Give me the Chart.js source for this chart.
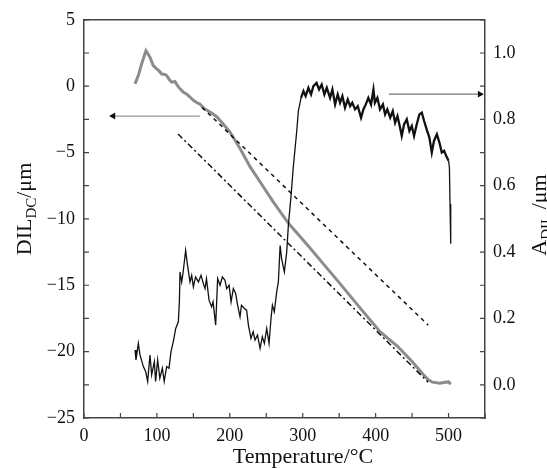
<!DOCTYPE html>
<html lang="en">
<head>
    <meta charset="UTF-8">
    <title>DIL / A_DIL vs Temperature</title>
    <style>
        body, html {
            margin: 0;
            padding: 0;
            background: #fff;
            overflow: hidden;
        }
        #wrap {
            width: 547px;
            height: 468px;
        }
    </style>
</head>
<body>
<div id="wrap">
    <canvas id="chart" width="547" height="468"></canvas>
</div>

<script src="https://cdn.jsdelivr.net/npm/chart.js"></script>
<script>
    // dilatation curve (left axis, um)
    const tempDil = [70, 74.5, 79, 85, 87, 90.5, 95, 99.7, 103, 106.6,
        110, 113.4, 117, 120.3, 124.8, 128, 131.7, 136, 140.9, 145,
        150, 155, 159, 165, 172.9, 182, 190, 200, 214, 227.7,
        245, 260, 280, 293.6, 310, 330, 350, 380, 406, 430,
        450, 465, 472, 478, 488, 495, 500, 503];
    const dilValues = [0.17, 0.8, 1.67, 2.67, 2.5, 2.17, 1.55, 1.3, 1.15, 0.92,
        0.9, 0.8, 0.5, 0.3, 0.35, 0.05, -0.2, -0.45, -0.6, -0.8,
        -1.07, -1.25, -1.35, -1.7, -1.95, -2.3, -2.8, -3.44, -4.69, -6.06,
        -7.5, -8.75, -10.3, -11.15, -12.2, -13.5, -14.8, -16.8, -18.5, -19.6,
        -20.75, -21.7, -22.1, -22.3, -22.38, -22.3, -22.28, -22.45];

    // A_DIL curve (right axis)
    const tempA = [70, 71.3, 74.5, 76.8, 81.4, 84.6, 87.3, 90.5, 92.8, 96.5,
        98.2, 101, 104, 107.5, 110, 113.4, 116.6, 119.3, 122.5, 125.8,
        129.4, 130.8, 131.7, 134, 136, 139.4, 142, 145.4, 147.7, 150,
        153, 157, 160.5, 163.7, 166, 168, 171.5, 175, 177, 180.6,
        183.3, 186.6, 189.8, 193.4, 195.7, 199, 201.7, 204.8, 208, 210.7,
        214, 216, 220, 223, 225.5, 229, 232, 234.6, 238, 241.5,
        244.6, 247.4, 250.6, 253.8, 256.5, 258.4, 261, 264.3, 266.6, 269,
        271, 274.8, 278, 280.3, 284, 287, 291.8, 294, 297.7, 301,
        304, 307.8, 311.4, 314.6, 319, 322.4, 326, 329.7, 333, 337.5,
        340.7, 344.4, 348, 351.2, 354.4, 358, 361.8, 365, 368, 371.8,
        375.5, 380, 383.2, 386.5, 390, 393.7, 397, 399, 402.4, 406,
        410, 413, 416, 420, 423.5, 426.7, 430, 433.5, 435.8, 439,
        442.7, 446.3, 449.6, 452.7, 456.4, 460, 463.3, 466.5, 470, 473.7,
        477, 480, 484, 487.5, 490.7, 494, 496.7, 500, 501.2, 502, 503];
    const aValues = [0.105, 0.075, 0.125, 0.09, 0.055, 0.04, 0.01, 0.09, 0.03, 0.07,
        0.01, 0.075, 0.02, 0.05, 0.01, 0.055, 0.05, 0.1, 0.13, 0.17,
        0.19, 0.25, 0.34, 0.31, 0.34, 0.405, 0.36, 0.31, 0.33, 0.295,
        0.325, 0.31, 0.33, 0.305, 0.29, 0.32, 0.255, 0.235, 0.25, 0.18,
        0.32, 0.3, 0.325, 0.315, 0.29, 0.3, 0.25, 0.29, 0.275, 0.24,
        0.205, 0.24, 0.23, 0.225, 0.18, 0.14, 0.16, 0.135, 0.15, 0.11,
        0.145, 0.125, 0.17, 0.125, 0.2, 0.24, 0.22, 0.28, 0.31, 0.42,
        0.38, 0.34, 0.4, 0.48, 0.57, 0.655, 0.765, 0.825, 0.865, 0.885,
        0.87, 0.895, 0.875, 0.9, 0.91, 0.89, 0.905, 0.875, 0.895, 0.865,
        0.89, 0.845, 0.875, 0.85, 0.87, 0.835, 0.86, 0.84, 0.85, 0.83,
        0.84, 0.805, 0.83, 0.845, 0.865, 0.845, 0.89, 0.85, 0.865, 0.83,
        0.845, 0.815, 0.83, 0.805, 0.825, 0.79, 0.81, 0.775, 0.75, 0.785,
        0.8, 0.765, 0.78, 0.75, 0.785, 0.815, 0.82, 0.795, 0.77, 0.745,
        0.7, 0.735, 0.755, 0.73, 0.7, 0.705, 0.69, 0.675, 0.655, 0.545, 0.425];

    // straight reference lines (left axis)
    const dashedT = [162, 472];
    const dashedDil = [-1.6, -18.0];
    const dashDotT = [129, 472];
    const dashDotDil = [-3.6, -22.3];

    // arrows pointing at the axes
    const arrowLeftT = [40, 159];
    const arrowLeftDil = [-2.25, -2.25];
    const arrowRightT = [418, 543];
    const arrowRightA = [0.876, 0.876];

    const pts = (xs, ys) => xs.map((x, i) => ({ x: x, y: ys[i] }));

    const serif = 'Liberation Serif';
    const axisColor = '#444';

    // inward tick marks, top frame line and axis titles with subscripts
    const frame = {
        id: 'frame',
        afterDatasetsDraw(chart) {
            const { ctx, chartArea: a, scales } = chart;
            ctx.save();
            ctx.strokeStyle = axisColor;
            ctx.lineWidth = 1.2;
            ctx.beginPath();
            scales.x.ticks.forEach(t => {
                const px = scales.x.getPixelForValue(t.value);
                ctx.moveTo(px, a.bottom);
                ctx.lineTo(px, a.bottom - 5);
            });
            scales.y.ticks.forEach(t => {
                const py = scales.y.getPixelForValue(t.value);
                ctx.moveTo(a.left, py);
                ctx.lineTo(a.left + 5, py);
            });
            scales.y2.ticks.forEach(t => {
                const py = scales.y2.getPixelForValue(t.value);
                ctx.moveTo(a.right, py);
                ctx.lineTo(a.right - 5, py);
            });
            ctx.stroke();
            ctx.lineWidth = 1.5;
            ctx.beginPath();
            ctx.moveTo(a.left, a.top);
            ctx.lineTo(a.right, a.top);
            ctx.stroke();

            ctx.fillStyle = '#111';
            ctx.textBaseline = 'alphabetic';

            // x title
            ctx.font = '22px ' + serif;
            ctx.textAlign = 'center';
            ctx.fillText('Temperature/\u00B0C', 303, 463);

            // rotated titles built from parts
            function rotTitle(cx, cy, parts) {
                ctx.save();
                ctx.translate(cx, cy);
                ctx.rotate(-Math.PI / 2);
                ctx.textAlign = 'left';
                let total = 0;
                parts.forEach(p => { ctx.font = p.size + 'px ' + serif; total += ctx.measureText(p.text).width; });
                let x = -total / 2;
                parts.forEach(p => {
                    ctx.font = p.size + 'px ' + serif;
                    ctx.fillText(p.text, x, p.shift);
                    x += ctx.measureText(p.text).width;
                });
                ctx.restore();
            }
            rotTitle(31, 209, [
                { text: 'DIL', size: 22, shift: 0 },
                { text: 'DC', size: 15, shift: 5 },
                { text: '/\u03BCm', size: 22, shift: 0 }
            ]);
            rotTitle(546, 215, [
                { text: 'A', size: 22, shift: 0 },
                { text: 'DIL', size: 15, shift: 5 },
                { text: ' /\u03BCm', size: 22, shift: 0 }
            ]);
            ctx.restore();
        }
    };

    const minus = v => String(v).replace('-', '\u2212');

    new Chart(document.getElementById('chart'), {
        type: 'line',
        data: {
            datasets: [
                {
                    label: 'dashed',
                    data: pts(dashedT, dashedDil),
                    yAxisID: 'y',
                    borderColor: '#111',
                    borderWidth: 1.5,
                    borderDash: [4, 4],
                    pointRadius: 0
                },
                {
                    label: 'dash-dot',
                    data: pts(dashDotT, dashDotDil),
                    yAxisID: 'y',
                    borderColor: '#111',
                    borderWidth: 1.5,
                    borderDash: [6, 3, 2, 3],
                    pointRadius: 0
                },
                {
                    label: 'A_DIL',
                    data: pts(tempA, aValues),
                    yAxisID: 'y2',
                    borderColor: '#111',
                    borderWidth: 1.3,
                    pointRadius: 0,
                    // the noisy plateau reads as a thicker band
                    segment: {
                        borderWidth: c => (c.p0.parsed.x > 296 && c.p1.parsed.x < 501 ? 2.3 : 1.3)
                    }
                },
                {
                    label: 'DIL_DC',
                    data: pts(tempDil, dilValues),
                    yAxisID: 'y',
                    borderColor: '#8c8c8c',
                    borderWidth: 3,
                    pointRadius: 0
                },
                {
                    label: 'arrow left',
                    data: pts(arrowLeftT, arrowLeftDil),
                    yAxisID: 'y',
                    borderColor: '#999',
                    borderWidth: 1.2,
                    pointStyle: 'triangle',
                    pointRadius: [4, 0],
                    pointRotation: [-90, 0],
                    pointBackgroundColor: '#111',
                    pointBorderWidth: 0
                },
                {
                    label: 'arrow right',
                    data: pts(arrowRightT, arrowRightA),
                    yAxisID: 'y2',
                    borderColor: '#777',
                    borderWidth: 1.2,
                    pointStyle: 'triangle',
                    pointRadius: [0, 4],
                    pointRotation: [0, 90],
                    pointBackgroundColor: '#111',
                    pointBorderWidth: 0
                }
            ]
        },
        options: {
            responsive: false,
            animation: false,
            events: [],
            layout: { padding: { top: 17, left: 0, right: 0, bottom: 0 } },
            elements: { line: { tension: 0 } },
            plugins: {
                legend: { display: false },
                tooltip: { enabled: false }
            },
            scales: {
                x: {
                    type: 'linear',
                    min: 0,
                    max: 550,
                    afterFit: s => { s.height = 50; },
                    grid: { display: false, drawTicks: false },
                    border: { display: true, color: axisColor, width: 1.5 },
                    ticks: {
                        stepSize: 50,
                        autoSkip: false,
                        maxRotation: 0,
                        padding: 7,
                        color: '#111',
                        font: { family: serif, size: 18 },
                        callback: v => (v % 100 === 0 ? String(v) : '')
                    }
                },
                y: {
                    type: 'linear',
                    position: 'left',
                    min: -25,
                    max: 5,
                    afterFit: s => { s.width = 84; },
                    grid: { display: false, drawTicks: false },
                    border: { display: true, color: axisColor, width: 1.5 },
                    ticks: {
                        stepSize: 2.5,
                        autoSkip: false,
                        padding: 9,
                        color: '#111',
                        font: { family: serif, size: 18 },
                        callback: v => (v % 5 === 0 ? minus(v) : '')
                    }
                },
                y2: {
                    type: 'linear',
                    position: 'right',
                    min: -0.1,
                    max: 1.1,
                    afterFit: s => { s.width = 62; },
                    grid: { display: false, drawTicks: false },
                    border: { display: true, color: axisColor, width: 1.5 },
                    ticks: {
                        stepSize: 0.1,
                        autoSkip: false,
                        padding: 8,
                        color: '#111',
                        font: { family: serif, size: 18 },
                        callback: v => (Math.round(v * 10) % 2 === 0 ? v.toFixed(1) : '')
                    }
                }
            }
        },
        plugins: [frame]
    });
</script>
</body>
</html>
